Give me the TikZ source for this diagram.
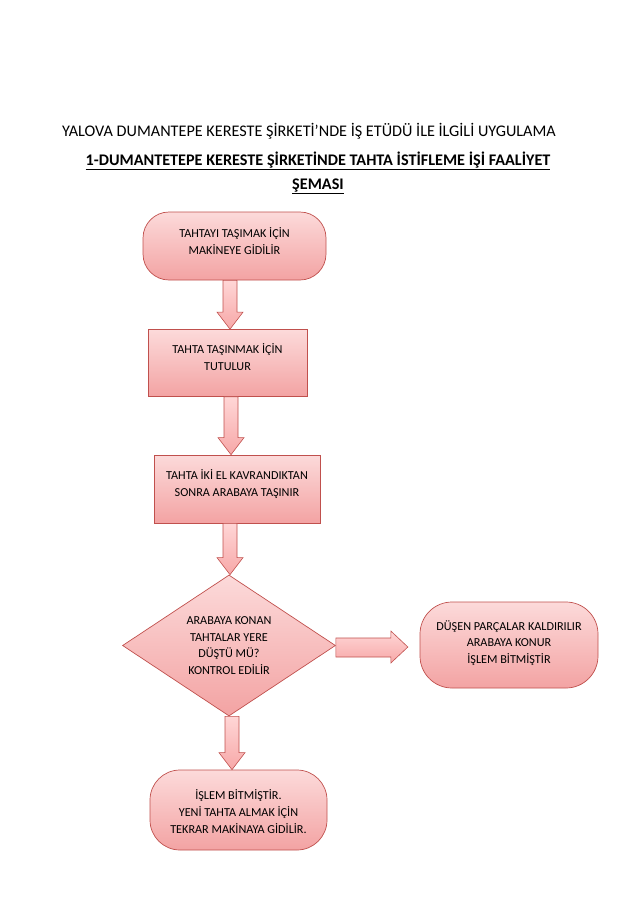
\documentclass[tikz,border=0pt]{standalone}
\usepackage{fontspec}
\setmainfont{Carlito}
\usetikzlibrary{shapes.geometric,calc}
\definecolor{bordr}{HTML}{C0504D}
\definecolor{ftop}{HTML}{FCDADA}
\definecolor{fbot}{HTML}{F3A3A3}
\definecolor{atop}{HTML}{FFD6D6}
\definecolor{abot}{HTML}{F7A8A8}
\newcommand{\downblock}[3]{%
  \path[blockarr] let \p1=(#1.south), \p2=(#2.north) in
    (#3-7, \y1) -- (#3+7, \y1) -- (#3+7, \y2+17) -- (#3+13, \y2+17)
    -- (#3, \y2) -- (#3-13, \y2+17) -- (#3-7, \y2+17) -- cycle;}
\newcommand{\uptext}[2]{\raisebox{#1}[\dimexpr\height+#1\relax][\dimexpr\depth+#1\relax]{\begin{tabular}{@{}c@{}}#2\end{tabular}}}
\begin{document}
\begin{tikzpicture}[x=1pt,y=-1pt,
  every node/.style={font=\fontsize{12.2}{16.7}\selectfont, text=black, align=center},
  blockarr/.style={draw=bordr, line width=0.6pt, top color=atop, bottom color=abot, line join=miter},
  stadium/.style={draw=bordr, line width=0.7pt, top color=ftop, bottom color=fbot, rounded corners=28pt, inner sep=0pt},
  procbox/.style={draw=bordr, line width=0.7pt, top color=ftop, bottom color=fbot, inner sep=0pt},
  decbox/.style={diamond, draw=bordr, line width=0.7pt, top color=ftop, bottom color=fbot, inner sep=0pt, aspect=1.514}]
\useasboundingbox (0,0) rectangle (638,903);
\node[font=\fontsize{16.2}{16}\selectfont] (title) at (309,131) {YALOVA DUMANTEPE KERESTE ŞİRKETİ’NDE İŞ ETÜDÜ İLE İLGİLİ UYGULAMA};
\node[font=\fontsize{16.2}{24}\selectfont\bfseries] (sub) at (318,173) {\underline{1-DUMANTETEPE KERESTE ŞİRKETİNDE TAHTA İSTİFLEME İŞİ FAALİYET}\\\underline{ŞEMASI}};
\node[stadium, rounded corners=26pt, minimum width=183pt, minimum height=68pt] (s1) at (234.5,246) {\uptext{3.5pt}{TAHTAYI TAŞIMAK İÇİN\\MAKİNEYE GİDİLİR}};
\node[procbox, minimum width=159pt, minimum height=67pt] (b2) at (227.5,363) {\uptext{4pt}{TAHTA TAŞINMAK İÇİN\\TUTULUR}};
\node[procbox, minimum width=166pt, minimum height=68pt] (b3) at (237,489) {\uptext{4pt}{TAHTA İKİ EL KAVRANDIKTAN\\SONRA ARABAYA TAŞINIR}};
\node[decbox, minimum width=213pt, minimum height=141pt] (d4) at (229,645.5) {ARABAYA KONAN\\TAHTALAR YERE\\DÜŞTÜ MÜ?\\KONTROL EDİLİR};
\node[stadium, rounded corners=32pt, minimum width=178pt, minimum height=86pt] (s5) at (509,645) {\uptext{1.5pt}{DÜŞEN PARÇALAR KALDIRILIR\\ARABAYA KONUR\\İŞLEM BİTMİŞTİR}};
\node[stadium, rounded corners=30pt, minimum width=177pt, minimum height=80pt] (s6) at (238.5,810) {\uptext{-3pt}{İŞLEM BİTMİŞTİR.\\YENİ TAHTA ALMAK İÇİN\\TEKRAR MAKİNAYA GİDİLİR.}};
\downblock{s1}{b2}{230}
\downblock{b2}{b3}{231}
\downblock{b3}{d4}{230}
\downblock{d4}{s6}{232}
\path[blockarr] let \p1=(d4.east), \p2=(s5.west) in
  (\x1, 638) -- (\x1+55, 638) -- (\x1+55, 631) -- (\x1+72, 647) -- (\x1+55, 663)
  -- (\x1+55, 657) -- (\x1, 657) -- cycle;
\end{tikzpicture}
\end{document}
